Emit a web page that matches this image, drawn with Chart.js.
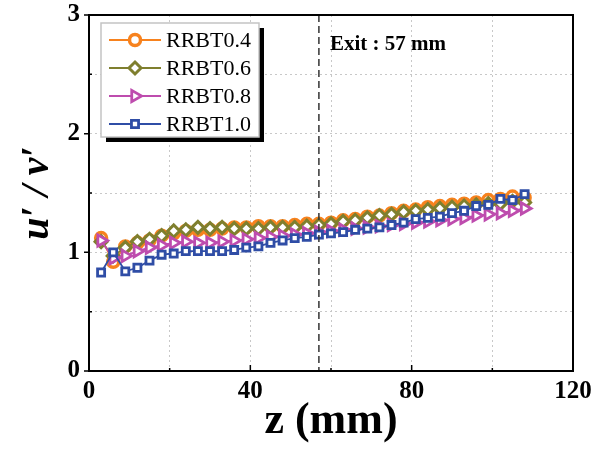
<!DOCTYPE html>
<html>
<head>
<meta charset="utf-8">
<script src="https://cdn.jsdelivr.net/npm/chart.js@4"></script>
<style>
  html, body { margin: 0; padding: 0; background: #fff; }
</style>
</head>
<body>
<canvas id="chart" width="607" height="452"></canvas>
<script>
// z positions (mm)
const zValues = [3, 6, 9, 12, 15, 18, 21, 24, 27, 30, 33, 36, 39, 42, 45, 48, 51, 54,
                 57, 60, 63, 66, 69, 72, 75, 78, 81, 84, 87, 90, 93, 96, 99, 102, 105, 108];
// u'/v' for each case
const rrbt04 = [1.12, 0.92, 1.05, 1.08, 1.10, 1.14, 1.16, 1.18, 1.19, 1.19, 1.20, 1.21, 1.21, 1.22, 1.22, 1.22, 1.23, 1.24,
                1.24, 1.25, 1.27, 1.28, 1.30, 1.31, 1.33, 1.35, 1.36, 1.38, 1.39, 1.40, 1.41, 1.42, 1.44, 1.45, 1.47, 1.46];
const rrbt06 = [1.09, 0.97, 1.04, 1.09, 1.11, 1.14, 1.18, 1.19, 1.21, 1.20, 1.21, 1.20, 1.20, 1.20, 1.21, 1.21, 1.21, 1.22,
                1.23, 1.24, 1.26, 1.27, 1.29, 1.31, 1.32, 1.34, 1.35, 1.36, 1.37, 1.38, 1.39, 1.40, 1.41, 1.41, 1.43, 1.42];
const rrbt08 = [1.10, 0.95, 0.97, 1.01, 1.04, 1.06, 1.08, 1.09, 1.08, 1.08, 1.09, 1.10, 1.11, 1.12, 1.13, 1.14, 1.15, 1.16,
                1.17, 1.18, 1.19, 1.20, 1.21, 1.22, 1.23, 1.24, 1.25, 1.26, 1.27, 1.28, 1.29, 1.31, 1.32, 1.33, 1.35, 1.37];
const rrbt10 = [0.83, 1.00, 0.84, 0.87, 0.93, 0.98, 0.99, 1.01, 1.01, 1.01, 1.01, 1.02, 1.04, 1.05, 1.08, 1.10, 1.12, 1.13,
                1.15, 1.16, 1.17, 1.19, 1.20, 1.21, 1.23, 1.25, 1.28, 1.29, 1.30, 1.33, 1.35, 1.39, 1.40, 1.45, 1.44, 1.49];

const seriesLabels = ["RRBT0.4", "RRBT0.6", "RRBT0.8", "RRBT1.0"];
const exitZ = 57;
const exitLabel = "Exit : 57 mm";

const serif = '"Liberation Serif", "Times New Roman", serif';

function pts(ys) {
  return ys.map((y, i) => ({ x: zValues[i], y: y }));
}

function makeSet(label, ys, color, style, radius, rot, order, bw) {
  return {
    label: label,
    data: pts(ys),
    borderColor: color,
    backgroundColor: color,
    borderWidth: 1.8,
    pointStyle: style,
    pointRadius: radius,
    pointRotation: rot,
    pointBorderWidth: bw,
    pointBackgroundColor: "#fff",
    pointBorderColor: color,
    order: order
  };
}

const datasets = [
  makeSet(seriesLabels[0], rrbt04, "#F7821E", "circle", 5.5, 0, 3, 3.5),
  makeSet(seriesLabels[1], rrbt06, "#7F7F2E", "rectRot", 6, 0, 2, 3),
  makeSet(seriesLabels[2], rrbt08, "#BE4CAE", "triangle", 6.5, 90, 1, 2.8),
  makeSet(seriesLabels[3], rrbt10, "#2F4DA6", "rect", 5, 0, 0, 2.8)
];

// small marker routine for the inline legend
function marker(ctx, ds, x, y) {
  const r = ds.pointRadius;
  ctx.save();
  ctx.translate(x, y);
  ctx.rotate(ds.pointRotation * Math.PI / 180);
  ctx.beginPath();
  if (ds.pointStyle === "circle") {
    ctx.arc(0, 0, r, 0, Math.PI * 2);
  } else if (ds.pointStyle === "rectRot") {
    ctx.moveTo(0, -r); ctx.lineTo(r, 0); ctx.lineTo(0, r); ctx.lineTo(-r, 0); ctx.closePath();
  } else if (ds.pointStyle === "triangle") {
    ctx.moveTo(0, -r); ctx.lineTo(r * 0.87, r * 0.5); ctx.lineTo(-r * 0.87, r * 0.5); ctx.closePath();
  } else {
    const s = r * 0.71;
    ctx.rect(-s, -s, 2 * s, 2 * s);
  }
  ctx.fillStyle = "#fff";
  ctx.fill();
  ctx.lineWidth = ds.pointBorderWidth;
  ctx.strokeStyle = ds.borderColor;
  ctx.stroke();
  ctx.restore();
}

const extras = {
  id: "extras",
  afterDatasetsDraw(chart) {
    const ctx = chart.ctx;
    const a = chart.chartArea;
    const xs = chart.scales.x, ys = chart.scales.y;

    // exit marker
    const ex = xs.getPixelForValue(exitZ);
    ctx.save();
    ctx.strokeStyle = "#333";
    ctx.lineWidth = 1.5;
    ctx.setLineDash([7, 4]);
    ctx.beginPath();
    ctx.moveTo(ex, a.top);
    ctx.lineTo(ex, a.bottom);
    ctx.stroke();
    ctx.setLineDash([]);
    ctx.fillStyle = "#000";
    ctx.font = "bold 21px " + serif;
    ctx.textBaseline = "middle";
    ctx.fillText(exitLabel, ex + 11, 45);

    // frame
    ctx.strokeStyle = "#000";
    ctx.lineWidth = 2;
    ctx.strokeRect(a.left, a.top, a.right - a.left, a.bottom - a.top);

    // tick marks
    ctx.lineWidth = 1.5;
    ctx.beginPath();
    [0, 20, 40, 60, 80, 100, 120].forEach(v => {
      const p = xs.getPixelForValue(v);
      const len = v % 40 === 0 ? 6 : 3;
      ctx.moveTo(p, a.bottom); ctx.lineTo(p, a.bottom - len);
    });
    [0, 0.5, 1, 1.5, 2, 2.5, 3].forEach(v => {
      const p = ys.getPixelForValue(v);
      if (Number.isInteger(v)) { ctx.moveTo(a.left, p); ctx.lineTo(a.left - 5, p); }
      else { ctx.moveTo(a.left, p); ctx.lineTo(a.left + 3, p); }
    });
    ctx.stroke();

    // legend
    const lx = 101, ly = 23, lw = 158, lh = 114;
    ctx.fillStyle = "#000";
    ctx.fillRect(lx + 5, ly + 5, lw, lh);
    ctx.fillStyle = "#fff";
    ctx.fillRect(lx, ly, lw, lh);
    ctx.strokeStyle = "#c4c4c4";
    ctx.lineWidth = 1.5;
    ctx.strokeRect(lx, ly, lw, lh);
    ctx.font = "22px " + serif;
    ctx.textBaseline = "middle";
    chart.data.datasets.forEach((ds, i) => {
      const y = 40 + i * 28;
      ctx.strokeStyle = ds.borderColor;
      ctx.lineWidth = 1.8;
      ctx.beginPath();
      ctx.moveTo(109, y); ctx.lineTo(161, y);
      ctx.stroke();
      marker(ctx, ds, 135, y);
      ctx.fillStyle = "#000";
      ctx.fillText(ds.label, 166, y + 1);
    });
    ctx.restore();
  }
};

new Chart(document.getElementById("chart"), {
  type: "line",
  data: { datasets: datasets },
  options: {
    responsive: false,
    animation: false,
    layout: { padding: { top: 15, right: 34, left: 0, bottom: 0 } },
    plugins: { legend: { display: false }, tooltip: { enabled: false } },
    scales: {
      x: {
        type: "linear",
        min: 0, max: 120,
        afterFit: s => { s.height = 81; },
        ticks: {
          stepSize: 20,
          padding: 6,
          color: "#000",
          font: { family: serif, size: 25, weight: "bold" },
          callback: v => (v % 40 === 0 ? v : "")
        },
        grid: { color: "#c8c8c8", lineWidth: 1, drawTicks: false },
        border: { color: "#000", width: 2, dash: [2, 3] },
        title: {
          display: true,
          text: "z (mm)",
          color: "#000",
          font: { family: serif, size: 44, weight: "bold", lineHeight: 1 },
          padding: { top: 0, bottom: 8 }
        }
      },
      y: {
        min: 0, max: 3,
        afterFit: s => { s.width = 89; s.paddingTop = 0; s.paddingBottom = 0; },
        ticks: {
          stepSize: 0.5,
          padding: 9,
          color: "#000",
          font: { family: serif, size: 25, weight: "bold" },
          callback: v => (Number.isInteger(v) ? v : "")
        },
        grid: { color: "#c8c8c8", lineWidth: 1, drawTicks: false },
        border: { color: "#000", width: 2, dash: [2, 3] },
        title: {
          display: true,
          text: "u′ / v′",
          color: "#000",
          font: { family: serif, size: 40, weight: "bold", style: "italic", lineHeight: 1 },
          padding: { top: 18, bottom: 0 }
        }
      }
    }
  },
  plugins: [extras]
});
</script>
</body>
</html>
